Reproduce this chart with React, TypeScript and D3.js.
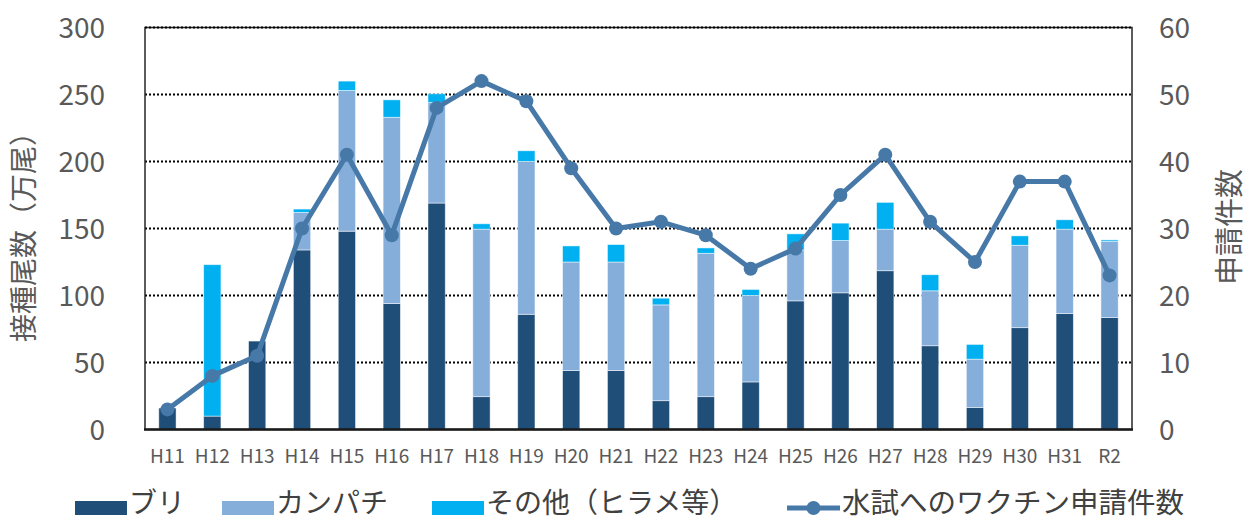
import React from "react";
import * as d3 from "d3";

const years = ["H11","H12","H13","H14","H15","H16","H17","H18","H19","H20","H21","H22","H23","H24","H25","H26","H27","H28","H29","H30","H31","R2"];
const buri = [16, 10, 66, 134, 148, 94, 169, 24.5, 86, 44, 44, 21.5, 24.5, 35.5, 96, 102, 118.5, 62.5, 16.5, 76, 86.5, 83.5];
const kanpachi = [0, 0, 0, 28, 105, 139, 75, 125, 114, 81, 81, 71.5, 107, 64.5, 38, 39, 31, 41, 36, 61.5, 63, 57];
const others = [0, 113, 0, 2.5, 7, 13, 6.5, 4, 8, 12, 13, 5, 4, 4.5, 12, 13, 20, 12, 11, 7, 7, 1];
const applications = [3, 8, 11, 30, 41, 29, 48, 52, 49, 39, 30, 31, 29, 24, 27, 35, 41, 31, 25, 37, 37, 23];
const leftTicks = [0, 50, 100, 150, 200, 250, 300];
const rightTicks = [0, 10, 20, 30, 40, 50, 60];

const seriesKeys = ["buri", "kanpachi", "others"];
const seriesNames = ["ブリ", "カンパチ", "その他（ヒラメ等）"];
const colors = ["#1f4e79", "#86aedb", "#00b0f0"];
const lineColor = "#4779a8";
const textColor = "#595959";
const font = "'Noto Sans CJK JP', 'Noto Sans', sans-serif";

const W = 1251;
const H = 521;
const plot = { left: 145, right: 1132, top: 27.5, bottom: 429.5 };

export default function App() {
  const x = d3.scaleBand<string>().domain(years).range([plot.left, plot.right]).padding(0);
  const yL = d3.scaleLinear().domain([0, 300]).range([plot.bottom, plot.top]);
  const yR = d3.scaleLinear().domain([0, 60]).range([plot.bottom, plot.top]);
  const barW = x.bandwidth() * 0.385;
  const cx = (d: string) => (x(d) as number) + x.bandwidth() / 2;

  const rows = years.map((y, i) => ({ year: y, buri: buri[i], kanpachi: kanpachi[i], others: others[i] }));
  const stacked = d3.stack<any>().keys(seriesKeys)(rows);

  const line = d3
    .line<number>()
    .x((_, i) => cx(years[i]))
    .y((d) => yR(d));

  // legend: marks centred at 507, text raised a little so it stays inside the frame
  const legendY = 507;
  const legendTextY = 503;
  const legendItems = [
    { x: 75, tx: 129, i: 0 },
    { x: 222, tx: 276, i: 1 },
    { x: 432, tx: 486, i: 2 },
  ];

  return (
    <svg width={W} height={H} style={{ position: "absolute", left: 0, top: 0, fontFamily: font }}>
      <rect width={W} height={H} fill="#fff" />

      {/* gridlines */}
      {leftTicks.slice(1, -1).map((t) => (
        <line key={t} x1={plot.left} x2={plot.right} y1={yL(t)} y2={yL(t)} stroke="#000" strokeWidth={2} strokeDasharray="2,2" />
      ))}

      {/* bars */}
      {stacked.map((s, si) => (
        <g key={s.key} fill={colors[si]}>
          {s.map((d, i) =>
            d[1] - d[0] > 0 ? (
              <rect
                key={years[i]}
                x={cx(years[i]) - barW / 2}
                y={yL(d[1])}
                width={barW}
                height={yL(d[0]) - yL(d[1])}
                stroke="#ffffff"
                strokeOpacity={0.6}
                strokeWidth={0.8}
              />
            ) : null
          )}
        </g>
      ))}

      {/* frame */}
      <rect x={plot.left} y={plot.top} width={plot.right - plot.left} height={plot.bottom - plot.top} fill="none" stroke="#262626" strokeWidth={1.5} />
      <line x1={plot.left} x2={plot.right} y1={plot.top} y2={plot.top} stroke="#000" strokeWidth={2} strokeDasharray="2,2" />
      <line x1={plot.left - 1} x2={plot.right + 1} y1={plot.bottom} y2={plot.bottom} stroke="#1a1a1a" strokeWidth={2.5} />

      {/* line series */}
      <path d={line(applications) || ""} fill="none" stroke={lineColor} strokeWidth={5} strokeLinejoin="round" />
      {applications.map((v, i) => (
        <circle key={years[i]} cx={cx(years[i])} cy={yR(v)} r={7} fill={lineColor} />
      ))}

      {/* left axis */}
      {leftTicks.map((t) => (
        <text key={t} x={105} y={yL(t)} dy="0.36em" textAnchor="end" fontSize={28} fill={textColor}>
          {t}
        </text>
      ))}
      {/* right axis */}
      {rightTicks.map((t) => (
        <text key={t} x={1159} y={yR(t)} dy="0.36em" textAnchor="start" fontSize={28} fill={textColor}>
          {t}
        </text>
      ))}
      {/* x labels */}
      {years.map((y) => (
        <text key={y} x={cx(y)} y={456} dy="0.36em" textAnchor="middle" fontSize={19} fill={textColor}>
          {y}
        </text>
      ))}

      {/* axis titles (rotated) */}
      <text transform="translate(24,230) rotate(-90)" textAnchor="middle" dy="0.36em" fontSize={28} fill={textColor}>
        接種尾数（万尾）
      </text>
      <text transform="translate(1230,227) rotate(-90)" textAnchor="middle" dy="0.36em" fontSize={29} fill={textColor}>
        申請件数
      </text>

      {/* legend */}
      {legendItems.map((it) => (
        <g key={it.i}>
          <rect x={it.x} y={legendY - 6} width={52} height={14} fill={colors[it.i]} />
          <text x={it.tx} y={legendTextY} dy="0.36em" fontSize={28} fill="#404040">
            {seriesNames[it.i]}
          </text>
        </g>
      ))}
      <line x1={787} x2={840} y1={legendY + 1} y2={legendY + 1} stroke={lineColor} strokeWidth={5} />
      <circle cx={813.5} cy={legendY + 1} r={7} fill={lineColor} />
      <text x={842} y={legendTextY} dy="0.36em" fontSize={28.5} fill="#404040">
        水試へのワクチン申請件数
      </text>
    </svg>
  );
}
